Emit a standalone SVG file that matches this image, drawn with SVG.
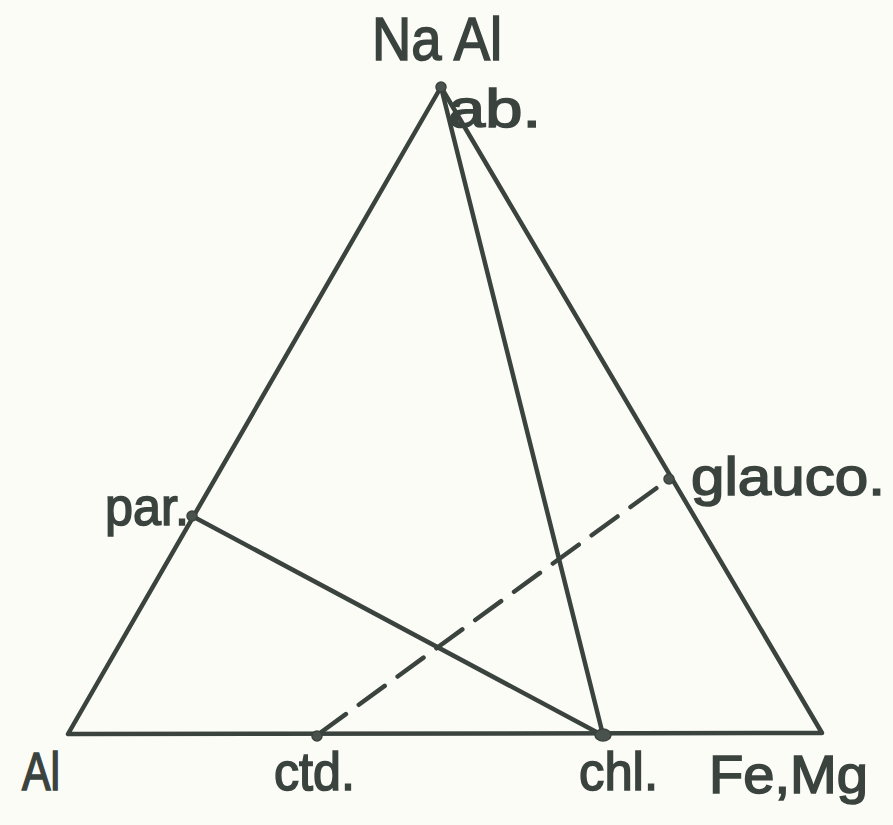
<svg xmlns="http://www.w3.org/2000/svg" width="893" height="825" viewBox="0 0 893 825">
<style>
.ln{stroke:#3b433f;stroke-width:4.5;fill:none;stroke-linecap:round;stroke-linejoin:round}
.dash{stroke-dasharray:32 16}
.dot{fill:#4a524e;stroke:#3b433f;stroke-width:1.5}
.lbl{font-family:"Liberation Sans",Arial,sans-serif;fill:#3b433f;stroke:#3b433f;stroke-width:1.6;font-size:53px}
</style>
<rect width="893" height="825" fill="#fcfcf7"/>
<g id="connectors">
<polygon class="ln" points="441,87 68,734 822,733"/>
<line class="ln" x1="441" y1="87" x2="603" y2="735"/>
<line class="ln" x1="192" y1="516" x2="602" y2="735"/>
<line class="ln dash" x1="320" y1="733" x2="669" y2="479"/>
</g>
<g id="node-naal">
<circle class="dot" cx="441" cy="87" r="5"/>
<text class="lbl" x="372" y="60" style="font-size:62px" textLength="130" lengthAdjust="spacingAndGlyphs">Na Al</text>
<text class="lbl" x="448" y="127" textLength="93" lengthAdjust="spacingAndGlyphs">ab.</text>
</g>
<g id="node-par">
<circle class="dot" cx="192" cy="516" r="5"/>
<text class="lbl" x="105" y="525" textLength="84" lengthAdjust="spacingAndGlyphs">par.</text>
</g>
<g id="node-glauco">
<circle class="dot" cx="669" cy="479" r="5"/>
<text class="lbl" x="691" y="495" textLength="194" lengthAdjust="spacingAndGlyphs">glauco.</text>
</g>
<g id="node-al">
<text class="lbl" x="22" y="790" textLength="38" lengthAdjust="spacingAndGlyphs">Al</text>
</g>
<g id="node-ctd">
<circle class="dot" cx="317" cy="736" r="5"/>
<text class="lbl" x="274" y="790" textLength="81" lengthAdjust="spacingAndGlyphs">ctd.</text>
</g>
<g id="node-chl">
<ellipse class="dot" cx="603" cy="735" rx="8" ry="6"/>
<text class="lbl" x="579" y="790" textLength="79" lengthAdjust="spacingAndGlyphs">chl.</text>
</g>
<g id="node-femg">
<text class="lbl" x="709" y="793" textLength="159" lengthAdjust="spacingAndGlyphs">Fe,Mg</text>
</g>
</svg>
